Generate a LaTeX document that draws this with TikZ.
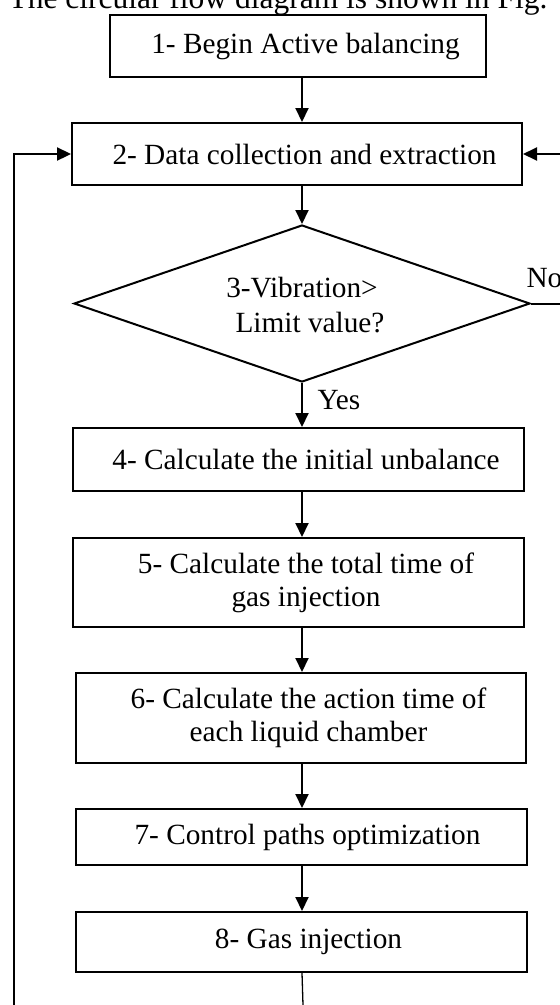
\documentclass[tikz,border=0pt]{standalone}
\usepackage{fontspec}
\setmainfont{Liberation Serif}
\usetikzlibrary{arrows.meta,shapes.geometric}
\begin{document}
\begin{tikzpicture}[x=1pt,y=-1pt,
  every node/.style={font=\fontsize{29.3}{33}\selectfont},
  box/.style={draw,line width=2pt,rectangle,align=center,inner sep=0pt},
  arr/.style={line width=2pt,-{Triangle[length=14pt,width=13pt]}},
  ln/.style={line width=2pt}]
\useasboundingbox (0,0) rectangle (560,1005);
\clip (0,0) rectangle (560,1005);

\node[anchor=base west,font=\fontsize{31.5}{36}\selectfont] (cap) at (5,8) {The circular flow diagram is shown in Fig. 1};

\node[box,minimum width=376pt,minimum height=62pt] (b1) at (298,46) {\hspace*{15pt}1- Begin Active balancing};
\node[box,minimum width=450pt,minimum height=62pt] (b2) at (297,154) {\hspace*{15pt}2- Data collection and extraction};
\node[draw,diamond,line width=2pt,minimum width=456pt,minimum height=157pt,inner sep=0pt] (d3) at (302,303.5) {};
\node[anchor=base,align=center,font=\fontsize{29.3}{35}\selectfont] (t3) at (302,332) {3-Vibration>\\\hspace*{16pt}Limit value?};
\node[anchor=base west] (yes) at (314,409) {Yes};
\node[anchor=base west] (no) at (523,287) {No};
\node[box,minimum width=451pt,minimum height=63pt] (b4) at (298.5,459.5) {\hspace*{15pt}4- Calculate the initial unbalance};
\node[box,minimum width=451pt,minimum height=89pt] (b5) at (298.5,582.5) {\hspace*{15pt}5- Calculate the total time of\\\hspace*{15pt}gas injection};
\node[box,minimum width=450pt,minimum height=90pt] (b6) at (301,718) {\hspace*{15pt}6- Calculate the action time of\\\hspace*{15pt}each liquid chamber};
\node[box,minimum width=451pt,minimum height=56pt] (b7) at (301.5,837) {\hspace*{12pt}7- Control paths optimization};
\node[box,minimum width=451pt,minimum height=60pt] (b8) at (301.5,942) {\hspace*{14pt}8- Gas injection};

\coordinate (ax) at (302,0);
\coordinate (rin) at (560,154);
\coordinate (rout) at (560,303.5);
\coordinate (lbot) at (14,1005);
\coordinate (bbot) at (303,1005);

\draw[arr] (b1.south -| ax) -- (b2.north -| ax);
\draw[arr] (b2.south -| ax) -- (d3.north);
\draw[arr] (d3.south) -- (b4.north -| ax);
\draw[arr] (b4.south -| ax) -- (b5.north -| ax);
\draw[arr] (b5.south -| ax) -- (b6.north -| ax);
\draw[arr] (b6.south -| ax) -- (b7.north -| ax);
\draw[arr] (b7.south -| ax) -- (b8.north -| ax);
\draw[ln] (d3.east) -- (rout);
\draw[arr] (rin) -- (b2.east);
\draw[arr,line width=2.3pt] (lbot) |- (b2.west);
\draw[line width=1.3pt] (b8.south -| ax) -- (bbot);
\end{tikzpicture}
\end{document}
